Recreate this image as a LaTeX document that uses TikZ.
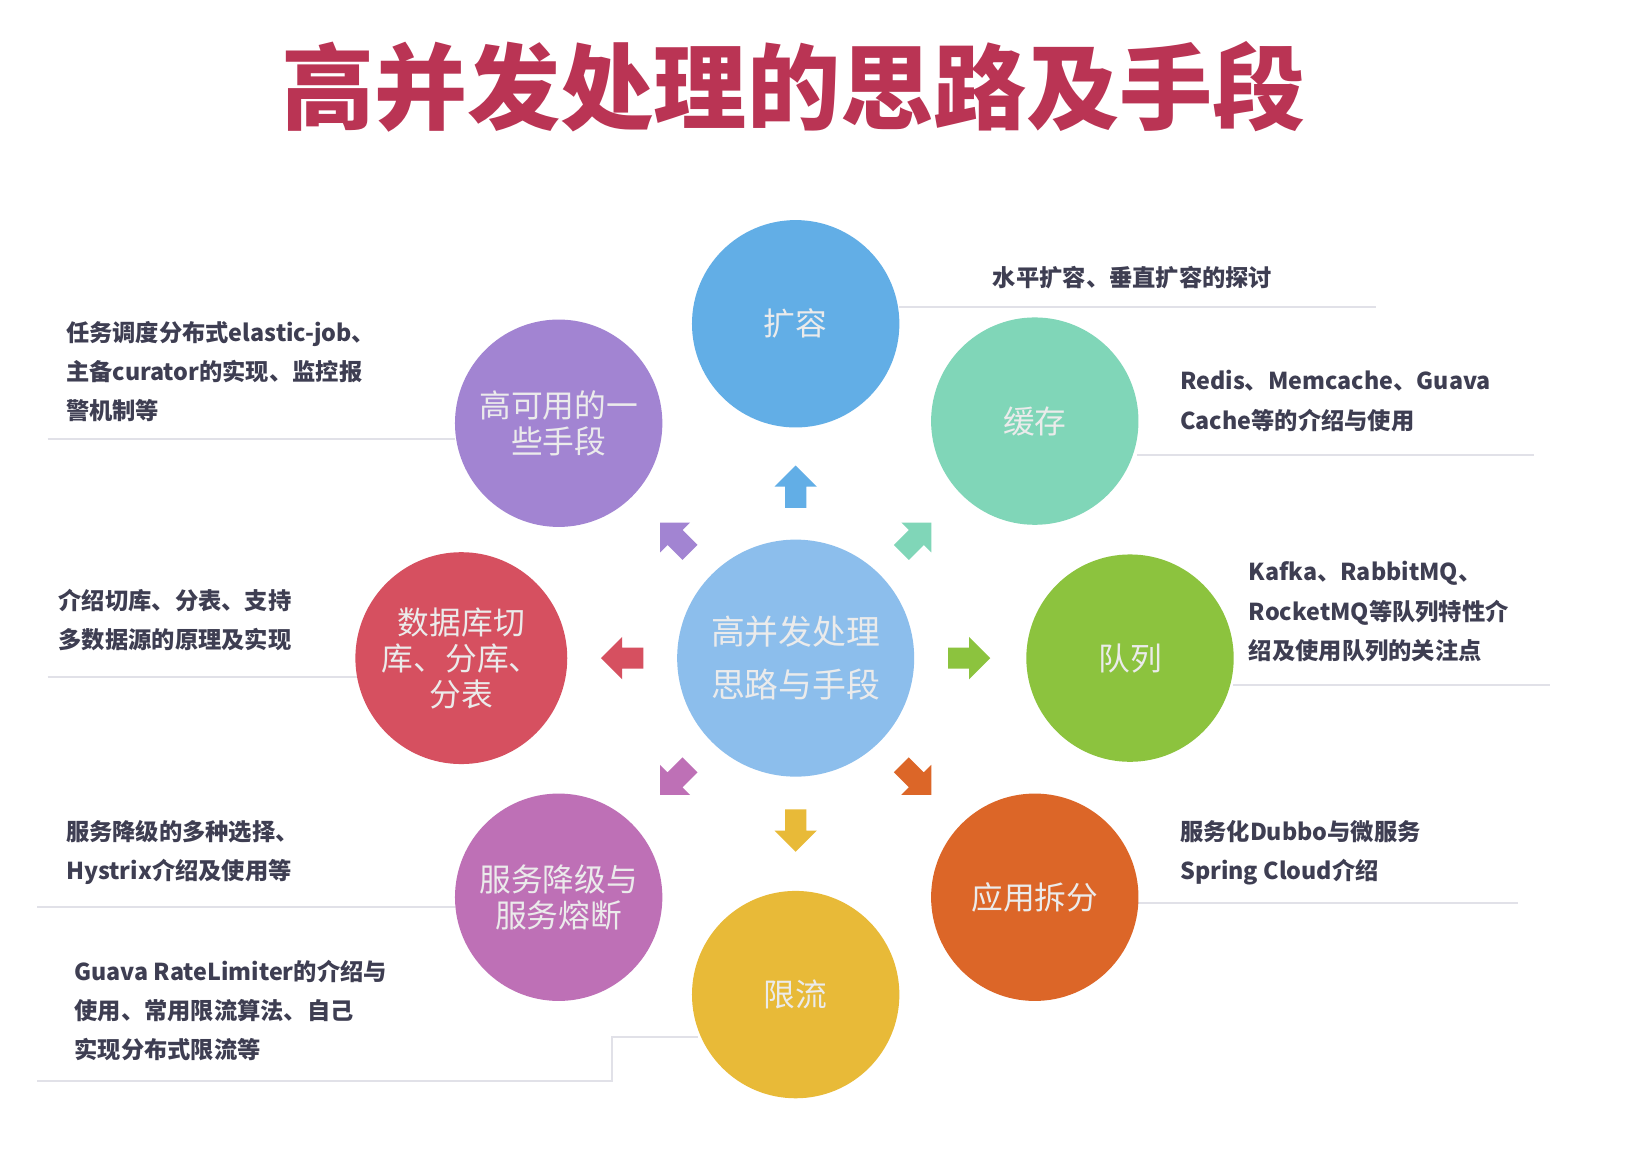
\documentclass[tikz,border=0pt]{standalone}
\usepackage{fontspec}
\setmainfont{Noto Sans CJK SC}
\newfontfamily\cjk{Noto Sans CJK SC}
\definecolor{titlec}{RGB}{186,52,84}
\definecolor{cblue}{RGB}{98,174,230}
\definecolor{cmint}{RGB}{128,214,184}
\definecolor{cgreen}{RGB}{140,195,62}
\definecolor{corange}{RGB}{220,102,40}
\definecolor{cyellow}{RGB}{232,186,56}
\definecolor{cpink}{RGB}{190,112,182}
\definecolor{cred}{RGB}{214,80,96}
\definecolor{cpurple}{RGB}{162,132,210}
\definecolor{ccenter}{RGB}{140,190,236}
\definecolor{txt}{RGB}{62,62,82}
\definecolor{rule}{RGB}{225,225,232}
\tikzset{
  bub/.style={circle,minimum size=98pt,inner sep=0pt,text=white!92!black,font=\fontsize{15}{18}\selectfont,align=center,text width=88pt},
  note/.style={anchor=west,text=txt,font=\fontsize{11}{18.5}\selectfont\bfseries,align=left,inner sep=0pt},
  sep/.style={draw=rule,line width=0.9pt},
}
\newcommand{\blockarrow}[4]{% x y angle color
  \fill[#4,shift={(#1,#2)},rotate=#3] (-20,-10)--(0,-10)--(0,-20)--(20,0)--(0,20)--(0,10)--(-20,10)--cycle;}
\begin{document}
\begin{tikzpicture}[x=0.5pt,y=-0.5pt]
\useasboundingbox (0,0) rectangle (1550,1098);
\fill[white] (0,0) rectangle (1550,1098);
\node[font=\fontsize{44}{48}\selectfont\bfseries,text=titlec] (title) at (750,82) {高并发处理的思路及手段};
% lines
\draw[sep] (850,290) -- (1300,290);
\draw[sep] (1075,430) -- (1450,430);
\draw[sep] (1165,647) -- (1465,647);
\draw[sep] (1075,853) -- (1435,853);
\draw[sep] (45,415) -- (430,415);
\draw[sep] (45,640) -- (340,640);
\draw[sep] (35,857) -- (430,857);
\coordinate (gl) at (35,1022);
\coordinate (gc) at (578,1022);
\coordinate (gu) at (578,980);
\coordinate (gr) at (660,980);
\draw[sep] (gl) -- (gc) -- (gu) -- (gr);
% circles
\node[bub,fill=ccenter,minimum size=112pt,text width=100pt,font=\fontsize{16}{25}\selectfont] (c) at (752,622) {高并发处理\\思路与手段};
\node[bub,fill=cblue] (kr) at (752,306) {扩容};
\node[bub,fill=cmint] (hc) at (978,398) {缓存};
\node[bub,fill=cgreen] (dl) at (1068,622) {队列};
\node[bub,fill=corange] (yy) at (978,848) {应用拆分};
\node[bub,fill=cyellow] (xl) at (752,940) {限流};
\node[bub,fill=cpink,font=\fontsize{15}{17}\selectfont] (fw) at (528,848) {服务降级与\\服务熔断};
\node[bub,fill=cred,font=\fontsize{15}{17}\selectfont] (db) at (436,622) {数据库切\\库、分库、\\分表};
\node[bub,fill=cpurple,font=\fontsize{15}{17}\selectfont] (ha) at (528,400) {高可用的一\\些手段};
% block arrows
\blockarrow{752}{460}{90}{cblue}
\blockarrow{866}{508}{45}{cmint}
\blockarrow{916}{622}{0}{cgreen}
\blockarrow{866}{737}{-45}{corange}
\blockarrow{752}{785}{-90}{cyellow}
\blockarrow{638}{737}{-135}{cpink}
\blockarrow{588}{622}{180}{cred}
\blockarrow{638}{508}{135}{cpurple}
% notes
\node[note] (n1) at (938,262) {水平扩容、垂直扩容的探讨};
\node[note] (n2) at (1115,379) {Redis、Memcache、Guava\\Cache等的介绍与使用};
\node[note] (n3) at (1180,578) {Kafka、RabbitMQ、\\RocketMQ等队列特性介\\绍及使用队列的关注点};
\node[note] (n4) at (1115,806) {服务化Dubbo与微服务\\Spring Cloud介绍};
\node[note] (n5) at (62,351) {任务调度分布式elastic-job、\\主备curator的实现、监控报\\警机制等};
\node[note] (n6) at (55,586) {介绍切库、分表、支持\\多数据源的原理及实现};
\node[note] (n7) at (62,806) {服务降级的多种选择、\\Hystrix介绍及使用等};
\node[note] (n8) at (70,955) {Guava RateLimiter的介绍与\\使用、常用限流算法、自己\\实现分布式限流等};
\end{tikzpicture}
\end{document}
